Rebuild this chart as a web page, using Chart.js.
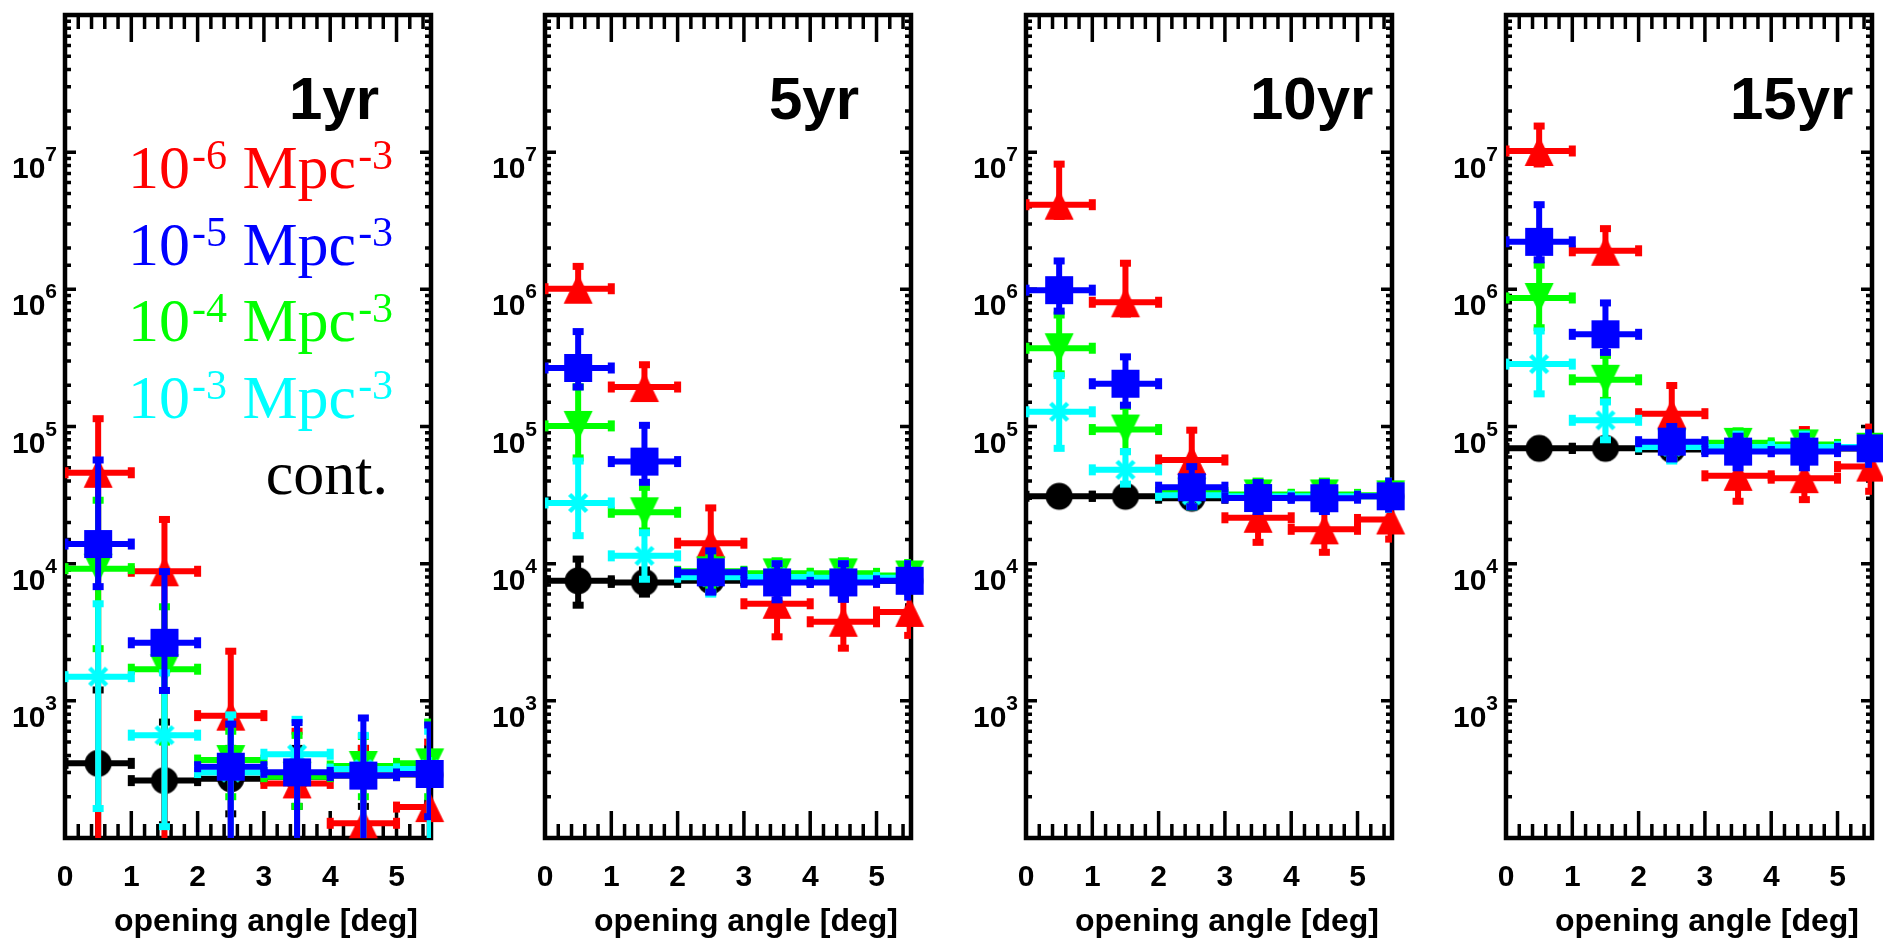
<!DOCTYPE html>
<html>
<head>
<meta charset="utf-8">
<script src="https://cdn.jsdelivr.net/npm/chart.js@4.4.1/dist/chart.umd.min.js"></script>
<style>
  html, body { margin: 0; padding: 0; background: #fff; overflow: hidden; }
  #wrap { position: relative; width: 1883px; height: 941px; overflow: hidden; }
  canvas { position: absolute; top: 0; }
</style>
</head>
<body>
<div id="wrap">
  <canvas id="c0" width="480" height="941" style="left:0px"></canvas>
  <canvas id="c1" width="480" height="941" style="left:480px"></canvas>
  <canvas id="c2" width="480" height="941" style="left:961px"></canvas>
  <canvas id="c3" width="480" height="941" style="left:1441px"></canvas>
</div>
<script>
// bins of opening angle [deg], each 1 deg wide
const bins = [0.5, 1.5, 2.5, 3.5, 4.5, 5.5];
const binHalf = 0.5;
const xMax = 5.52;
const panelLabels = ['1yr', '5yr', '10yr', '15yr'];
const densityExp = ['-6', '-5', '-4', '-3'];

// rows: [value, lower end of error bar, upper end of error bar]
// lower end 1 means the bar runs off the bottom of the axis
const red1   = [[4.6e4, 1, 1.14e5], [8.8e3, 1, 2.1e4], [780, 1, 2.3e3], [250, 1, 600], [128, 1, 450], [168, 1, 500]];
const blue1  = [[1.39e4, 6.8e3, 5.7e4], [2.65e3, 1.19e3, 8.75e3], [331, 1, 677], [301, 1, 694], [285, 1, 750], [293, 143, 667]];
const green1 = [[9.2e3, 2.4e3, 2.9e4], [1.7e3, 500, 4.85e3], [370, 200, 600], [280, 170, 560], [335, 200, 550], [350, 200, 700]];
const cyan1  = [[1.5e3, 164, 5.1e3], [562, 121, 1.6e3], [300, 1, 790], [408, 1, 733], [318, 1, 560], [318, 1, 600]];
const cont1  = [[350, 1, 1.2e3], [262, 125, 700], [270, 150, 450], [280, 170, 450], [285, 170, 450], [290, 180, 450]];

const red2   = [[1.01e6, 8.5e5, 1.47e6], [1.94e5, 1.65e5, 2.82e5], [1.41e4, 9e3, 2.55e4], [5.1e3, 2.93e3, 7.3e3], [3.77e3, 2.42e3, 5.5e3], [4.45e3, 3.0e3, 6.5e3]];
const blue2  = [[2.67e5, 1.94e5, 4.92e5], [5.55e4, 3.92e4, 1.02e5], [8.65e3, 6.2e3, 1.24e4], [7.3e3, 5.45e3, 1.0e4], [7.3e3, 5.5e3, 1.0e4], [7.5e3, 5.7e3, 1.0e4]];
const green2 = [[1.01e5, 5.9e4, 1.95e5], [2.37e4, 1.73e4, 3.6e4], [8.8e3, 6.5e3, 1.15e4], [8.5e3, 6.5e3, 1.05e4], [8.5e3, 6.5e3, 1.05e4], [8.2e3, 6.3e3, 1.02e4]];
const cyan2  = [[2.77e4, 1.6e4, 5.6e4], [1.14e4, 7.7e3, 1.68e4], [7.96e3, 6e3, 1.0e4], [8.0e3, 6.2e3, 1.0e4], [7.9e3, 6.1e3, 1.0e4], [7.9e3, 6.1e3, 1.0e4]];
const cont2  = [[7.5e3, 4.98e3, 1.08e4], [7.3e3, 6.0e3, 9.0e3], [7.5e3, 6.3e3, 8.8e3], [7.5e3, 6.3e3, 8.8e3], [7.5e3, 6.3e3, 8.8e3], [7.5e3, 6.3e3, 8.8e3]];

const red3   = [[4.14e6, 3.4e6, 8.18e6], [8.05e5, 6.6e5, 1.55e6], [5.7e4, 4e4, 9.4e4], [2.16e4, 1.43e4, 2.9e4], [1.78e4, 1.21e4, 2.6e4], [2.1e4, 1.51e4, 2.9e4]];
const blue3  = [[9.86e5, 6.94e5, 1.61e6], [2.05e5, 1.43e5, 3.22e5], [3.61e4, 2.6e4, 5.1e4], [3.01e4, 2.4e4, 3.9e4], [3.0e4, 2.4e4, 3.9e4], [3.1e4, 2.5e4, 4.0e4]];
const green3 = [[3.72e5, 2.42e5, 6.5e5], [9.5e4, 6.56e4, 1.4e5], [3.3e4, 2.6e4, 4.2e4], [3.2e4, 2.6e4, 4.0e4], [3.2e4, 2.6e4, 4.0e4], [3.15e4, 2.5e4, 4.0e4]];
const cyan3  = [[1.28e5, 6.93e4, 2.35e5], [4.83e4, 3.8e4, 6.56e4], [3.15e4, 2.6e4, 3.9e4], [3.1e4, 2.5e4, 3.8e4], [3.1e4, 2.5e4, 3.8e4], [3.1e4, 2.5e4, 3.8e4]];
const cont3  = [[3.1e4, 2.7e4, 3.5e4], [3.1e4, 2.7e4, 3.5e4], [3.0e4, 2.6e4, 3.4e4], [3.1e4, 2.7e4, 3.5e4], [3.1e4, 2.7e4, 3.5e4], [3.1e4, 2.7e4, 3.5e4]];

const red4   = [[1.02e7, 8.2e6, 1.55e7], [1.91e6, 1.6e6, 2.77e6], [1.24e5, 8.5e4, 1.99e5], [4.37e4, 2.85e4, 6.5e4], [4.2e4, 2.93e4, 9.5e4], [5.1e4, 3.37e4, 9.9e4]];
const blue4  = [[2.22e6, 1.64e6, 4.14e6], [4.7e5, 3.47e5, 7.96e5], [7.75e4, 5.8e4, 1.0e5], [6.56e4, 5.0e4, 8.5e4], [6.56e4, 5.0e4, 8.5e4], [6.93e4, 5.3e4, 9.0e4]];
const green4 = [[8.65e5, 5.25e5, 1.5e6], [2.19e5, 1.55e5, 3.3e5], [7.5e4, 5.8e4, 9.5e4], [7.6e4, 5.9e4, 9.3e4], [7.4e4, 5.8e4, 9.0e4], [7.0e4, 5.5e4, 8.8e4]];
const cyan4  = [[2.85e5, 1.73e5, 4.97e5], [1.11e5, 8e4, 1.51e5], [7.1e4, 5.6e4, 8.8e4], [7.1e4, 5.6e4, 8.8e4], [7.1e4, 5.6e4, 8.8e4], [7.1e4, 5.6e4, 8.8e4]];
const cont4  = [[6.93e4, 6.0e4, 8.0e4], [6.93e4, 6.0e4, 8.0e4], [6.8e4, 5.9e4, 7.9e4], [6.9e4, 6.0e4, 8.0e4], [6.9e4, 6.0e4, 8.0e4], [6.9e4, 6.0e4, 8.0e4]];

const panelSeries = [
    [red1, blue1, green1, cyan1, cont1],
    [red2, blue2, green2, cyan2, cont2],
    [red3, blue3, green3, cyan3, cont3],
    [red4, blue4, green4, cyan4, cont4]
];

// same order as the rows above; "order" puts blue on top, black at the bottom
const seriesStyle = [
    { label: '10^-6 Mpc^-3', color: '#ff0000', shape: 'up', order: 3 },
    { label: '10^-5 Mpc^-3', color: '#0000ff', shape: 'square', order: 0 },
    { label: '10^-4 Mpc^-3', color: '#00ff00', shape: 'down', order: 2 },
    { label: '10^-3 Mpc^-3', color: '#00ffff', shape: 'star', order: 1 },
    { label: 'cont.', color: '#000000', shape: 'circle', order: 4 }
];

const SANS = '"Liberation Sans", Arial, Helvetica, sans-serif';
const SERIF = '"Liberation Serif", "Times New Roman", serif';

// marker images (pointStyle accepts a canvas)
function makeMarker(shape, color) {
    const c = document.createElement('canvas');
    c.width = 32; c.height = 32;
    const g = c.getContext('2d');
    g.fillStyle = color; g.strokeStyle = color;
    const m = 16;
    g.beginPath();
    if (shape === 'up') {
        g.moveTo(m, m - 15); g.lineTo(m + 14.5, m + 15); g.lineTo(m - 14.5, m + 15); g.closePath(); g.fill();
    } else if (shape === 'down') {
        g.moveTo(m, m + 15); g.lineTo(m + 14.5, m - 15); g.lineTo(m - 14.5, m - 15); g.closePath(); g.fill();
    } else if (shape === 'square') {
        g.fillRect(m - 14, m - 14, 28, 28);
    } else if (shape === 'circle') {
        g.arc(m, m, 13.5, 0, Math.PI * 2); g.fill();
    } else {
        g.lineWidth = 4.5;
        for (let k = 0; k < 4; k++) {
            const ang = k * Math.PI / 4;
            g.moveTo(m - 12 * Math.cos(ang), m - 12 * Math.sin(ang));
            g.lineTo(m + 12 * Math.cos(ang), m + 12 * Math.sin(ang));
        }
        g.stroke();
    }
    return c;
}

// error bars, drawn just before each dataset's markers
const errorBarPlugin = {
    id: 'errorBars',
    beforeDatasetDraw(chart, args) {
        const ds = chart.data.datasets[args.index];
        const { ctx, chartArea: a } = chart;
        const x = chart.scales.x, y = chart.scales.y;
        ctx.save();
        ctx.beginPath();
        ctx.rect(a.left, a.top, a.right - a.left, a.bottom - a.top);
        ctx.clip();
        ctx.strokeStyle = ds.errColor;
        ctx.fillStyle = ds.errColor;
        ctx.lineWidth = 6;
        ds.err.forEach((e, i) => {
            const pt = ds.data[i];
            const px = x.getPixelForValue(pt.x);
            const py = y.getPixelForValue(pt.y);
            const x0 = x.getPixelForValue(pt.x - binHalf);
            const x1 = x.getPixelForValue(pt.x + binHalf);
            const y0 = y.getPixelForValue(e[0]);
            const y1 = y.getPixelForValue(e[1]);
            ctx.beginPath();
            ctx.moveTo(x0, py); ctx.lineTo(x1, py);
            ctx.moveTo(px, y0); ctx.lineTo(px, y1);
            ctx.stroke();
            ctx.fillRect(x0 - 3.5, py - 5.5, 7, 11);
            ctx.fillRect(x1 - 3.5, py - 5.5, 7, 11);
            ctx.fillRect(px - 5.5, y0 - 3.5, 11, 7);
            ctx.fillRect(px - 5.5, y1 - 3.5, 11, 7);
        });
        ctx.restore();
    }
};

// box and inward ticks on all four sides
const framePlugin = {
    id: 'frame',
    beforeDatasetsDraw(chart) {
        const { ctx, chartArea: a } = chart;
        const x = chart.scales.x, y = chart.scales.y;
        ctx.save();
        ctx.strokeStyle = '#000';
        ctx.lineWidth = 3.5;
        ctx.beginPath();
        x.ticks.forEach(t => {
            const px = x.getPixelForValue(t.value);
            ctx.moveTo(px, a.bottom); ctx.lineTo(px, a.bottom - 27);
            ctx.moveTo(px, a.top); ctx.lineTo(px, a.top + 27);
            for (let k = 1; k < 5; k++) {
                const v = t.value + k * 0.2;
                if (v >= x.max) break;
                const q = x.getPixelForValue(v);
                ctx.moveTo(q, a.bottom); ctx.lineTo(q, a.bottom - 14);
                ctx.moveTo(q, a.top); ctx.lineTo(q, a.top + 14);
            }
        });
        y.ticks.forEach(t => {
            const lg = Math.log10(t.value);
            const major = Math.abs(lg - Math.round(lg)) < 1e-6;
            const len = major ? 11 : 6;
            const py = y.getPixelForValue(t.value);
            ctx.moveTo(a.left, py); ctx.lineTo(a.left + len, py);
            ctx.moveTo(a.right, py); ctx.lineTo(a.right - len, py);
        });
        ctx.stroke();
        ctx.lineWidth = 4.5;
        ctx.strokeRect(a.left, a.top, a.right - a.left, a.bottom - a.top);
        ctx.restore();
    }
};

// tick labels with superscripts, axis title, panel label and the text legend
const textPlugin = {
    id: 'panelText',
    afterDraw(chart, args, opts) {
        const { ctx, chartArea: a } = chart;
        const x = chart.scales.x, y = chart.scales.y;
        ctx.save();
        ctx.fillStyle = '#000';
        ctx.textBaseline = 'alphabetic';

        ctx.textAlign = 'center';
        ctx.font = `bold 30px ${SANS}`;
        x.ticks.forEach(t => {
            ctx.fillText(String(t.value), x.getPixelForValue(t.value), a.bottom + 48);
        });

        ctx.textAlign = 'left';
        const lo = Math.log10(y.min), hi = Math.log10(y.max);
        y.ticks.forEach(t => {
            const lg = Math.log10(t.value);
            const e = Math.round(lg);
            if (Math.abs(lg - e) > 1e-6 || e <= lo || e >= hi) return;
            const py = y.getPixelForValue(t.value);
            ctx.font = `bold 30px ${SANS}`;
            const w10 = ctx.measureText('10').width;
            ctx.font = `bold 21px ${SANS}`;
            const we = ctx.measureText(String(e)).width;
            const x0 = a.left - 8 - (w10 + we);
            ctx.font = `bold 30px ${SANS}`;
            ctx.fillText('10', x0, py + 26);
            ctx.font = `bold 21px ${SANS}`;
            ctx.fillText(String(e), x0 + w10, py + 9);
        });

        ctx.textAlign = 'center';
        ctx.font = `bold 32px ${SANS}`;
        ctx.fillText('opening angle [deg]', (a.left + a.right) / 2 + 18, a.bottom + 93);

        ctx.textAlign = 'left';
        ctx.font = `bold 60px ${SANS}`;
        ctx.fillText(opts.label, a.left + 224, a.top + 104);

        if (opts.legend) {
            densityExp.forEach((exp, i) => {
                let xx = a.left + 63;
                const base = a.top + 173 + 76.7 * i;
                ctx.fillStyle = seriesStyle[i].color;
                ctx.font = `62px ${SERIF}`;
                ctx.fillText('10', xx, base);
                xx += ctx.measureText('10').width + 2;
                ctx.font = `42px ${SERIF}`;
                ctx.fillText(exp, xx, base - 19);
                xx += ctx.measureText(exp).width;
                ctx.font = `62px ${SERIF}`;
                ctx.fillText(' Mpc', xx, base);
                xx += ctx.measureText(' Mpc').width + 2;
                ctx.font = `42px ${SERIF}`;
                ctx.fillText('-3', xx, base - 19);
            });
            ctx.fillStyle = '#000';
            ctx.textAlign = 'right';
            ctx.font = `62px ${SERIF}`;
            ctx.fillText('cont.', a.left + 323, a.top + 479);
        }
        ctx.restore();
    }
};

panelSeries.forEach((series, p) => {
    const datasets = series.map((rows, s) => ({
        label: seriesStyle[s].label,
        data: bins.map((b, i) => ({ x: b, y: rows[i][0] })),
        err: rows.map(r => [r[1], r[2]]),
        errColor: seriesStyle[s].color,
        pointStyle: makeMarker(seriesStyle[s].shape, seriesStyle[s].color),
        pointRadius: 14,
        pointHoverRadius: 14,
        showLine: false,
        clip: false,
        order: seriesStyle[s].order
    }));

    new Chart(document.getElementById('c' + p), {
        type: 'scatter',
        data: { datasets: datasets },
        options: {
            responsive: false,
            animation: false,
            events: [],
            layout: { padding: { top: 9, right: 49, bottom: 0, left: 0 } },
            scales: {
                x: {
                    type: 'linear', min: 0, max: xMax,
                    ticks: { display: false, stepSize: 1, includeBounds: false },
                    grid: { display: false }, border: { display: false },
                    afterFit: s => { s.height = 103; }
                },
                y: {
                    type: 'logarithmic', min: 1e2, max: 1e8,
                    ticks: { display: false },
                    grid: { display: false }, border: { display: false },
                    afterFit: s => { s.width = 65; }
                }
            },
            plugins: {
                legend: { display: false },
                tooltip: { enabled: false },
                panelText: { label: panelLabels[p], legend: p === 0 }
            }
        },
        plugins: [framePlugin, errorBarPlugin, textPlugin]
    });
});
</script>
</body>
</html>
